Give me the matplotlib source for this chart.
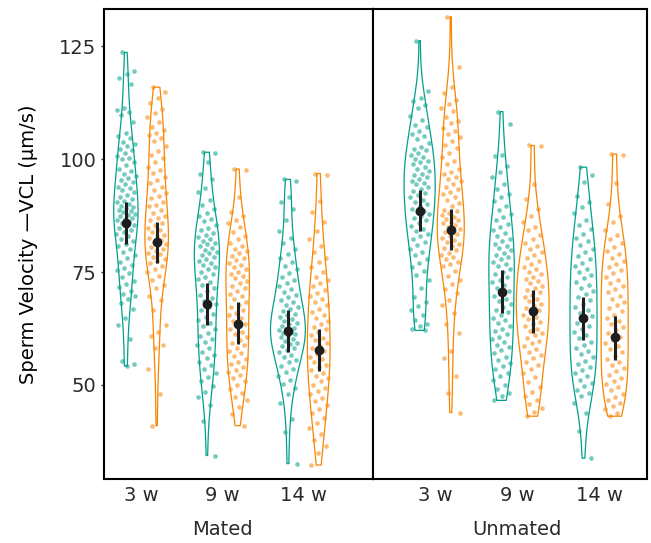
import numpy as np
import matplotlib
matplotlib.use("Agg")
import matplotlib.pyplot as plt

# ---------------- data ----------------
panels = ["Mated", "Unmated"]
ages = ["3 w", "9 w", "14 w"]

mated_teal_3w = [123.6, 119.5, 118.8, 117.9, 116.7, 111.2, 110.9, 110.5, 109.7, 108.2, 105.8, 105.2, 104.6, 103.8, 103.3, 102.8, 102.3, 101.9, 101.3, 100.7, 100.3, 99.9, 99.4, 98.6, 97.9, 97.4, 96.8, 96.3, 95.9, 95.4, 94.9, 94.4, 93.9, 93.5, 93.1, 92.6, 92.1, 91.7, 91.2, 90.8, 90.4, 90.0, 89.7, 89.4, 89.1, 88.8, 88.5, 88.2, 87.9, 87.6, 87.3, 87.0, 86.7, 86.4, 86.1, 85.8, 85.5, 85.1, 84.7, 84.3, 83.9, 83.4, 82.9, 82.4, 81.9, 81.3, 80.7, 80.1, 79.4, 78.7, 78.0, 77.3, 76.6, 76.0, 75.4, 74.7, 73.9, 73.1, 72.3, 71.6, 70.9, 70.2, 69.6, 69.0, 68.1, 66.8, 64.9, 63.2, 60.1, 55.3, 54.6, 54.2]
mated_orange_3w = [115.9, 114.9, 113.6, 112.5, 111.0, 110.1, 109.4, 108.3, 107.2, 106.5, 105.8, 105.3, 104.6, 103.9, 102.8, 101.7, 100.9, 100.2, 99.3, 98.3, 97.6, 96.9, 96.1, 95.4, 94.7, 93.9, 93.2, 92.4, 91.8, 91.3, 90.6, 89.9, 89.5, 88.7, 88.1, 87.5, 86.9, 86.5, 85.9, 85.3, 84.8, 84.3, 83.8, 83.3, 82.9, 82.5, 82.1, 81.7, 81.3, 80.9, 80.5, 80.1, 79.7, 79.3, 78.9, 78.4, 77.9, 77.4, 76.9, 76.3, 75.7, 75.1, 74.2, 73.3, 72.2, 71.4, 69.8, 68.9, 66.5, 63.3, 61.8, 60.8, 58.9, 58.2, 53.5, 48.1, 41.0]
mated_teal_9w = [101.5, 101.3, 99.4, 96.8, 95.6, 93.5, 92.7, 91.0, 89.9, 89.0, 88.0, 87.5, 86.8, 86.2, 85.4, 84.8, 84.2, 83.7, 83.2, 82.7, 82.3, 81.9, 81.5, 81.1, 80.7, 80.3, 79.9, 79.5, 79.1, 78.7, 78.3, 77.9, 77.5, 77.1, 76.6, 76.1, 75.6, 75.1, 74.6, 74.0, 73.4, 72.8, 72.1, 71.4, 70.7, 70.0, 69.3, 68.6, 67.9, 67.2, 66.5, 65.8, 65.1, 64.4, 63.7, 63.0, 62.3, 61.6, 60.9, 60.2, 59.5, 58.8, 58.1, 57.4, 56.7, 56.0, 55.2, 54.4, 53.5, 52.6, 51.7, 50.9, 49.8, 48.4, 47.4, 45.5, 42.0, 34.4]
mated_orange_9w = [97.8, 97.5, 91.7, 88.2, 87.3, 86.5, 85.8, 85.0, 83.8, 83.0, 82.2, 81.4, 80.8, 80.2, 79.6, 79.1, 78.6, 78.1, 77.6, 77.1, 76.6, 76.1, 75.6, 75.1, 74.6, 74.1, 73.6, 73.1, 72.6, 72.0, 71.4, 70.8, 70.2, 69.6, 69.0, 68.4, 67.8, 67.2, 66.6, 66.0, 65.4, 64.8, 64.2, 63.6, 63.0, 62.4, 61.8, 61.2, 60.6, 60.0, 59.4, 58.8, 58.2, 57.6, 57.0, 56.4, 55.8, 55.2, 54.6, 54.0, 53.4, 52.8, 52.2, 51.6, 50.8, 50.0, 49.2, 48.3, 47.4, 46.6, 45.2, 43.5, 41.0]
mated_teal_14w = [95.5, 95.2, 91.7, 90.5, 89.0, 86.5, 84.1, 82.6, 81.4, 80.2, 79.0, 78.0, 77.2, 76.4, 75.6, 74.8, 74.0, 73.3, 72.6, 71.9, 71.2, 70.6, 70.0, 69.4, 68.8, 68.3, 67.8, 67.3, 66.8, 66.3, 65.8, 65.4, 65.0, 64.6, 64.2, 63.8, 63.4, 63.0, 62.7, 62.4, 62.1, 61.8, 61.5, 61.2, 60.9, 60.6, 60.2, 59.8, 59.4, 59.0, 58.6, 58.2, 57.7, 57.2, 56.7, 56.2, 55.6, 55.0, 54.3, 53.6, 52.8, 52.0, 51.1, 50.2, 49.3, 48.1, 46.0, 42.5, 39.6, 32.6]
mated_orange_14w = [96.8, 96.5, 90.7, 88.3, 86.1, 84.0, 82.4, 80.8, 79.4, 78.2, 77.3, 76.2, 75.1, 74.0, 73.2, 72.5, 71.8, 71.1, 70.4, 69.7, 69.0, 68.3, 67.6, 66.9, 66.2, 65.5, 64.8, 64.1, 63.5, 62.9, 62.3, 61.7, 61.1, 60.5, 59.9, 59.3, 58.7, 58.1, 57.5, 56.9, 56.3, 55.7, 55.1, 54.5, 53.9, 53.3, 52.7, 52.1, 51.5, 50.8, 50.1, 49.4, 48.7, 48.0, 47.2, 46.4, 45.6, 44.7, 43.8, 42.8, 41.7, 40.5, 39.2, 37.9, 36.4, 35.0, 32.3]

unmated_teal_3w = [126.2, 115.0, 113.4, 112.8, 112.0, 111.2, 109.6, 108.6, 107.6, 107.1, 106.3, 105.6, 105.0, 104.5, 103.6, 102.7, 102.2, 101.9, 101.4, 100.8, 100.4, 100.0, 99.6, 99.3, 98.8, 98.2, 97.8, 97.3, 96.7, 96.4, 96.0, 95.6, 95.2, 94.8, 94.4, 93.8, 93.4, 93.0, 92.5, 92.0, 91.5, 91.0, 90.5, 90.0, 89.5, 89.0, 88.6, 88.2, 87.9, 87.4, 86.9, 86.4, 85.8, 85.2, 84.6, 84.0, 83.5, 82.9, 82.3, 81.6, 80.9, 80.2, 79.5, 78.7, 77.9, 77.0, 76.2, 75.3, 74.3, 73.3, 71.5, 69.5, 68.4, 67.4, 66.6, 65.5, 64.4, 63.6, 63.0, 62.5, 62.1]
unmated_orange_3w = [131.5, 120.4, 116.0, 114.7, 113.0, 112.2, 111.4, 110.7, 109.2, 108.5, 108.0, 106.9, 106.2, 105.5, 104.8, 104.0, 103.2, 102.5, 101.3, 100.4, 99.6, 98.8, 97.9, 97.2, 96.7, 96.0, 95.6, 95.2, 94.5, 93.8, 93.3, 92.8, 92.2, 91.7, 91.0, 90.2, 89.5, 88.8, 88.4, 88.0, 87.6, 87.2, 86.8, 86.5, 86.1, 85.8, 85.4, 85.0, 84.6, 84.2, 83.8, 83.4, 83.0, 82.6, 82.1, 81.7, 81.3, 80.8, 80.3, 79.8, 79.3, 78.8, 78.3, 77.8, 77.3, 76.8, 76.3, 75.2, 74.2, 73.3, 72.3, 71.3, 70.4, 68.9, 67.8, 66.0, 63.5, 61.6, 57.5, 56.0, 52.0, 48.3, 43.9]
unmated_teal_9w = [110.5, 107.7, 100.8, 100.6, 98.5, 97.1, 96.0, 94.5, 93.4, 92.3, 91.5, 90.8, 89.7, 88.8, 87.9, 87.1, 86.4, 85.7, 85.0, 84.3, 83.6, 83.0, 82.4, 81.8, 81.3, 80.8, 80.3, 79.8, 79.3, 78.8, 78.3, 77.8, 77.3, 76.8, 76.3, 75.7, 75.1, 74.5, 73.9, 73.3, 72.7, 72.1, 71.5, 70.9, 70.3, 69.7, 69.1, 68.5, 67.9, 67.3, 66.7, 66.1, 65.5, 64.9, 64.3, 63.7, 63.1, 62.5, 61.9, 61.3, 60.7, 60.1, 59.5, 58.9, 58.3, 57.7, 57.0, 56.3, 55.6, 54.9, 54.2, 53.5, 52.7, 51.9, 51.0, 50.1, 49.2, 48.3, 47.5, 46.6]
unmated_orange_9w = [103.0, 102.8, 94.5, 91.2, 89.0, 87.5, 86.1, 85.0, 84.2, 83.3, 82.4, 81.5, 80.8, 80.1, 79.4, 78.7, 78.0, 77.4, 76.8, 76.2, 75.6, 75.0, 74.5, 74.0, 73.5, 73.0, 72.5, 72.0, 71.5, 71.0, 70.5, 70.0, 69.5, 69.0, 68.5, 68.0, 67.5, 67.0, 66.5, 66.0, 65.5, 65.0, 64.5, 64.0, 63.5, 63.0, 62.5, 62.0, 61.5, 61.0, 60.4, 59.8, 59.2, 58.6, 58.0, 57.3, 56.6, 55.9, 55.2, 54.4, 53.6, 52.7, 51.7, 50.6, 49.5, 48.4, 47.5, 46.6, 45.8, 44.9, 44.0, 43.1]
unmated_teal_14w = [98.2, 96.4, 94.9, 91.8, 90.5, 89.3, 88.1, 86.6, 85.5, 84.5, 83.5, 82.6, 81.8, 81.0, 80.2, 79.4, 78.6, 77.8, 77.1, 76.4, 75.7, 75.0, 74.3, 73.6, 72.9, 72.2, 71.5, 70.8, 70.1, 69.4, 68.7, 68.0, 67.3, 66.6, 65.9, 65.2, 64.5, 63.8, 63.1, 62.4, 61.7, 61.0, 60.3, 59.6, 58.9, 58.2, 57.5, 56.8, 56.1, 55.4, 54.7, 54.0, 53.3, 52.6, 51.9, 51.2, 50.5, 49.8, 49.0, 48.3, 47.5, 46.0, 43.8, 39.8, 33.8]
unmated_orange_14w = [101.1, 100.8, 94.7, 90.0, 87.5, 86.1, 84.2, 83.3, 82.4, 81.5, 80.5, 79.7, 78.9, 78.2, 77.5, 76.8, 76.1, 75.4, 74.7, 74.0, 73.3, 72.6, 71.9, 71.2, 70.5, 69.8, 69.1, 68.4, 67.7, 67.0, 66.3, 65.6, 64.9, 64.2, 63.5, 62.8, 62.1, 61.4, 60.7, 60.0, 59.3, 58.6, 57.9, 57.2, 56.5, 55.8, 55.1, 54.4, 53.7, 53.0, 52.3, 51.6, 50.9, 50.2, 49.5, 48.8, 48.1, 47.4, 46.7, 46.0, 45.3, 44.6, 43.8, 43.1]

# means and error-bar limits (teal, orange) per age
mated_teal_mean = [85.9, 67.9, 62.0]
mated_teal_lo = [81.3, 63.3, 57.4]
mated_teal_hi = [90.4, 72.5, 66.5]
mated_orange_mean = [81.6, 63.6, 57.7]
mated_orange_lo = [76.9, 59.0, 53.0]
mated_orange_hi = [86.1, 68.3, 62.5]
unmated_teal_mean = [88.6, 70.6, 64.8]
unmated_teal_lo = [84.1, 66.0, 60.0]
unmated_teal_hi = [93.1, 75.4, 69.5]
unmated_orange_mean = [84.4, 66.4, 60.6]
unmated_orange_lo = [79.9, 61.6, 55.6]
unmated_orange_hi = [89.0, 71.0, 65.3]

yticks = [50, 75, 100, 125]

# ---------------- style ----------------
TEAL = "#00A08A"
ORANGE = "#F98400"
DARK = "#1e1e1e"
TXT = "#2b2b2b"

W, H = 651, 543
fig = plt.figure(figsize=(W / 100, H / 100), dpi=100)

def fx(px):
    return px / W

def fy(py):
    return 1 - py / H

top, bot = 9, 479
ax1 = fig.add_axes([fx(104), fy(bot), fx(373 - 104), fy(top) - fy(bot)])
ax2 = fig.add_axes([fx(373), fy(bot), fx(647 - 373), fy(top) - fy(bot)])

data = {
    "Mated": [(mated_teal_3w, mated_orange_3w), (mated_teal_9w, mated_orange_9w), (mated_teal_14w, mated_orange_14w)],
    "Unmated": [(unmated_teal_3w, unmated_orange_3w), (unmated_teal_9w, unmated_orange_9w), (unmated_teal_14w, unmated_orange_14w)],
}
stats = {
    "Mated": ((mated_teal_mean, mated_teal_lo, mated_teal_hi), (mated_orange_mean, mated_orange_lo, mated_orange_hi)),
    "Unmated": ((unmated_teal_mean, unmated_teal_lo, unmated_teal_hi), (unmated_orange_mean, unmated_orange_lo, unmated_orange_hi)),
}
# violin max widths in x units (style)
vwidths = {
    "Mated": [(0.30, 0.29), (0.31, 0.29), (0.43, 0.28)],
    "Unmated": [(0.38, 0.33), (0.31, 0.40), (0.33, 0.33)],
}
xlims = {"Mated": (0.54, 3.86), "Unmated": (0.241, 3.585)}
dodge = 0.19
jit = 0.12


def nrd0_factor(d):
    d = np.asarray(d, float)
    sd = d.std(ddof=1)
    q75, q25 = np.percentile(d, [75, 25])
    lo = min(sd, (q75 - q25) / 1.34)
    bw = 0.9 * lo * len(d) ** (-0.2)
    return bw / sd


for ax, panel in zip([ax1, ax2], panels):
    groups = data[panel]
    for gi, (teal, orange) in enumerate(groups):
        g = gi + 1
        for si, (vals, col) in enumerate([(teal, TEAL), (orange, ORANGE)]):
            pos = g - dodge if si == 0 else g + dodge
            w = vwidths[panel][gi][si]
            vp = ax.violinplot([vals], positions=[pos], widths=[w], showextrema=False,
                               showmeans=False, showmedians=False, points=300,
                               bw_method=nrd0_factor(vals))
            for b in vp["bodies"]:
                b.set_facecolor("none")
                b.set_edgecolor(col)
                b.set_linewidth(0.9)
                b.set_alpha(1)
                b.set_zorder(2)
            n = len(vals)
            offs = ((np.arange(n) * 0.6180339887 + 0.31) % 1.0 - 0.5) * 2 * jit
            ax.scatter(pos + offs, vals, s=11, color=col, alpha=0.55, linewidths=0, zorder=3)
    for si, (mean, lo, hi) in enumerate(stats[panel]):
        for gi in range(3):
            pos = gi + 1 - dodge if si == 0 else gi + 1 + dodge
            ax.plot([pos, pos], [lo[gi], hi[gi]], color=DARK, lw=2.2, solid_capstyle="butt", zorder=4)
            ax.plot([pos], [mean[gi]], "o", color=DARK, ms=6, zorder=5)

    ax.set_xlim(*xlims[panel])
    ax.set_ylim(29.2, 133.2)
    ax.set_xticks([1, 2, 3])
    ax.set_xticklabels(ages, fontsize=14, color=TXT)
    ax.tick_params(axis="x", length=0, pad=5)
    for sp in ax.spines.values():
        sp.set_linewidth(1.5)
        sp.set_color("black")
    ax.text(2, -0.108, panel, transform=ax.get_xaxis_transform(), ha="center", va="center",
            fontsize=14, color=TXT)

ax1.set_yticks(yticks)
ax1.set_yticklabels([str(t) for t in yticks], fontsize=14, color=TXT)
ax1.tick_params(axis="y", length=2.5, width=1, color=TXT, pad=3)
ax2.set_yticks([])
ax1.set_ylabel("Sperm Velocity \u2014VCL (\u00b5m/s)", fontsize=14, color="black")
ax1.yaxis.set_label_coords(-0.245, 0.5)

fig.savefig("out.png", dpi=100)
